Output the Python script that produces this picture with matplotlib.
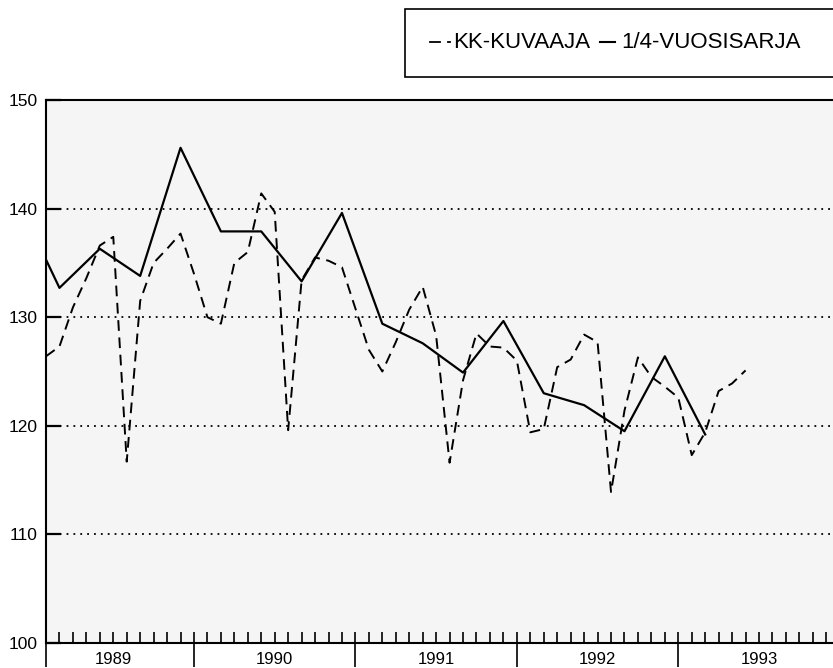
import numpy as np
import matplotlib.pyplot as plt
from matplotlib.lines import Line2D
from matplotlib.patches import Rectangle

plt.rcParams['font.family'] = ['Liberation Sans', 'DejaVu Sans']

# month index: 0 = tammikuu 1989
months = list(range(1, 54))
kk_values = [126.4, 127.3, 130.9, 133.6, 136.6, 137.4, 116.7, 131.5, 135.0, 136.3,
             137.7, 134.0, 130.0, 129.4, 135.0, 136.0, 141.4, 139.7, 119.6, 133.4,
             135.5, 135.2, 134.6, 130.8, 127.0, 125.0, 127.7, 130.7, 132.8, 128.3,
             116.6, 124.2, 128.5, 127.3, 127.2, 126.0, 119.4, 119.7, 125.4, 126.1,
             128.4, 127.7, 113.9, 121.4, 126.3, 124.5, 123.6, 122.6, 117.3, 119.4,
             123.2, 123.9, 125.1]

q_months = [-1, 2, 5, 8, 11, 14, 17, 20, 23, 26, 29, 32, 35, 38, 41, 44, 47, 50]
q_values = [140.5, 132.7, 136.3, 133.8, 145.6, 137.9, 137.9, 133.3, 139.6, 129.4,
            127.6, 124.9, 129.65, 123.0, 121.9, 119.5, 126.4, 119.2]

years = ['1989', '1990', '1991', '1992', '1993']
year_edges = [1, 12, 24, 36, 48]
y_ticks = [100, 110, 120, 130, 140, 150]

W, H = 833, 668
fig = plt.figure(figsize=(W / 100, H / 100), dpi=100)
fig.patch.set_facecolor('white')

def fx(x):
    return x / W

def fy(y):
    return 1 - y / H

ax = fig.add_axes([fx(46), fy(643), 1 - fx(46), (643 - 100) / H])
ax.set_facecolor('#f5f5f5')

for y in y_ticks[1:-1]:
    ax.axhline(y, color='black', lw=1.3, ls=(0, (1, 2.8)), zorder=1)

ax.plot(months, kk_values, color='black', lw=1.4, ls=(0, (5.5, 3.4)), zorder=3)
ax.plot(q_months, q_values, color='black', lw=1.6, zorder=3)

ax.set_xlim(1, 59.5)
ax.set_ylim(100, 150)

ax.set_xticks(year_edges)
ax.set_xticklabels([])
ax.set_xticks(range(1, 60), minor=True)
ax.xaxis.remove_overlapping_locs = False
ax.tick_params(axis='x', which='major', direction='out', length=17, width=1.2)
ax.tick_params(axis='x', which='minor', direction='in', length=8, width=1.2)

ax.set_yticks(y_ticks)
ax.tick_params(axis='y', direction='in', length=11, width=1.6, labelsize=12.5, pad=6)

for s in ['left', 'top', 'bottom']:
    ax.spines[s].set_linewidth(1.5)
ax.spines['right'].set_visible(False)

for i, yr in enumerate(years):
    ax.text(6 + 12 * i, -0.039, yr, transform=ax.get_xaxis_transform(),
            ha='center', va='baseline', fontsize=12)

# legend box
fig.add_artist(Rectangle((fx(405), fy(77)), 1, (77 - 9) / H, transform=fig.transFigure,
                         facecolor='white', edgecolor='black', lw=1.2, zorder=2))
ly = fy(42)
fig.add_artist(Line2D([fx(430), fx(440)], [ly, ly], color='black', lw=1.3, zorder=3))
fig.add_artist(Line2D([fx(448), fx(450)], [ly, ly], color='black', lw=1.3, zorder=3))
fig.text(fx(453), ly, 'KK-KUVAAJA', fontsize=16, va='center', ha='left', zorder=3)
fig.add_artist(Line2D([fx(600), fx(615)], [ly, ly], color='black', lw=1.5, zorder=3))
fig.text(fx(621), ly, '1/4-VUOSISARJA', fontsize=16, va='center', ha='left', zorder=3)

fig.savefig('out.png', dpi=100)
